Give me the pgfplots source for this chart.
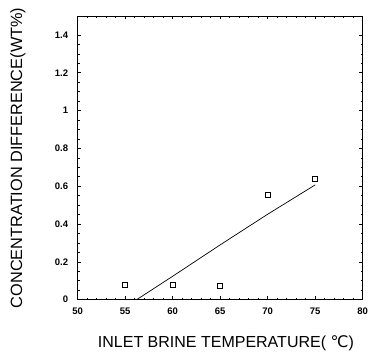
\documentclass[border=0pt]{standalone}
\usepackage{pgfplots}
\pgfplotsset{compat=1.18}
\usepackage{fontspec}
\setmainfont{Liberation Sans}
\newfontfamily\symfont{DejaVu Sans}
\begin{document}
\begin{tikzpicture}
\begin{axis}[
  name=ax,
  scale only axis,
  width=285pt, height=283.7pt,
  xmin=50, xmax=80, ymin=0, ymax=1.5,
  xtick={50,55,...,80},
  ytick={0,0.2,...,1.4},
  minor x tick num=4,
  minor y tick num=3,
  tick align=inside,
  major tick length=3.5pt,
  minor tick length=2pt,
  axis line style={line width=0.8pt},
  every tick/.style={black, line width=0.6pt},
  /pgf/number format/assume math mode=true,
  xticklabel={\pgfmathprintnumber{\tick}},
  yticklabel={\pgfmathprintnumber{\tick}},
  tick label style={font=\bfseries\fontsize{9.5}{11}\selectfont},
  yticklabel style={xshift=-6pt},
  xticklabel style={yshift=-5pt},
  xlabel={INLET BRINE TEMPERATURE( {\symfont ℃})},
  ylabel={CONCENTRATION DIFFERENCE(WT\%)},
  xlabel style={font=\fontsize{16}{18}\selectfont, at={(axis description cs:0.52,-0.154)}, anchor=center},
  ylabel style={font=\fontsize{16.3}{19}\selectfont, at={(axis description cs:-0.21,0.5)}, anchor=center},
]
% measured points
\addplot[only marks, mark=square, mark size=2.6pt, mark options={line width=0.7pt}]
  coordinates {(55,0.077) (60,0.078) (65,0.075) (70,0.555) (75,0.638)};
% fitted curve
\addplot[black, line width=0.7pt]
  coordinates {(56.2,0) (60,0.124) (65,0.29) (70,0.452) (75,0.607)};
\end{axis}
\pgfresetboundingbox
\useasboundingbox (ax.south west) ++(-77.7pt,-53.3pt) rectangle ++(370pt,353pt);
\end{tikzpicture}
\end{document}
